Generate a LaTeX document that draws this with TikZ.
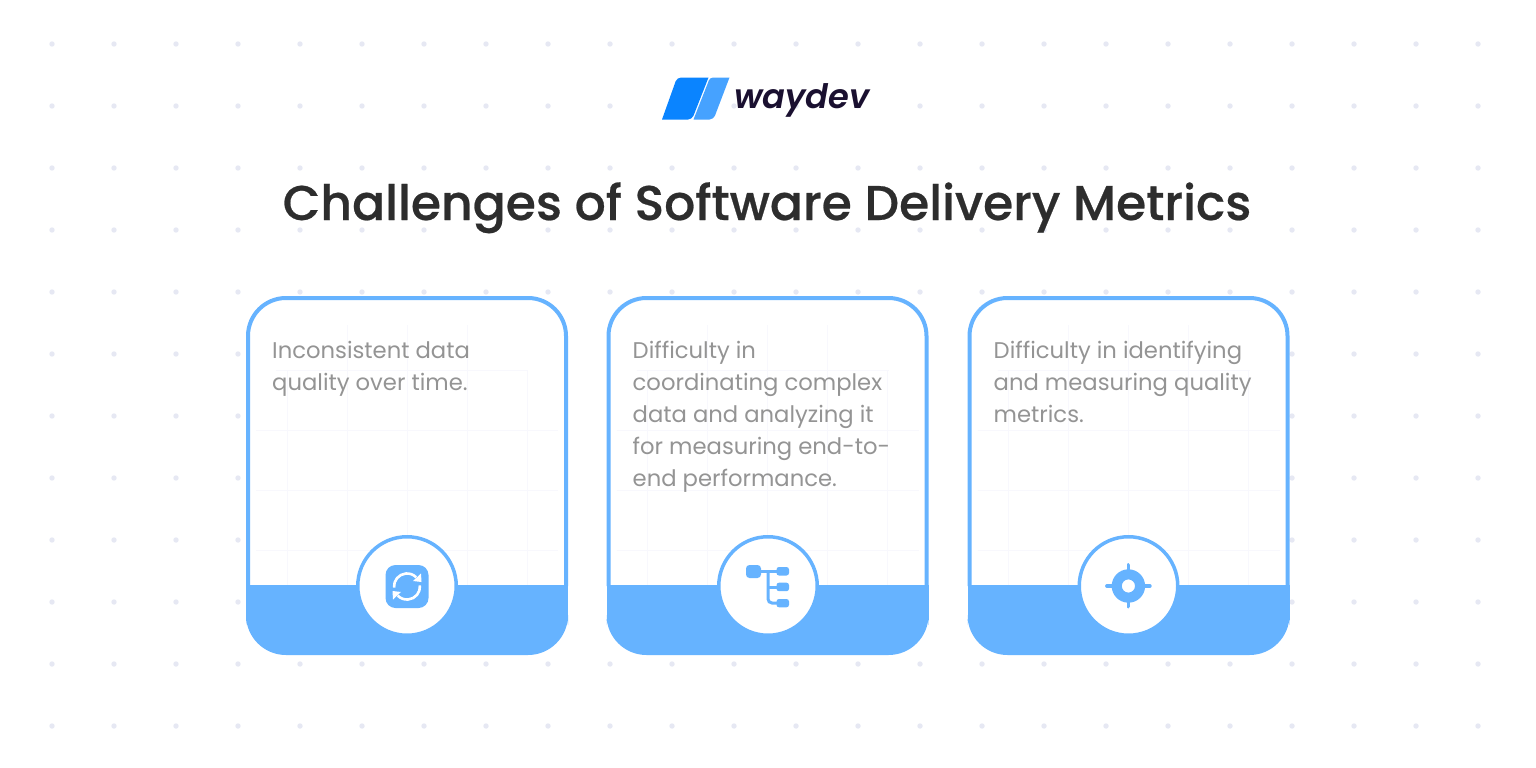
\documentclass[tikz,border=0pt]{standalone}
\usepackage{fontspec}
\setmainfont{Poppins}
\newfontfamily\titlefont{Poppins}[UprightFont=* Medium,FakeBold=0.5]
\newfontfamily\logofont{Poppins}[UprightFont=* SemiBold Italic]
\definecolor{cardblue}{HTML}{66B3FF}
\definecolor{logoblue}{HTML}{0A84FF}
\definecolor{logolight}{HTML}{46A2FF}
\definecolor{dotgrey}{HTML}{E6E8F3}
\definecolor{gridgrey}{HTML}{F8F8FD}
\definecolor{bodygrey}{HTML}{949494}
\definecolor{titledark}{HTML}{2D2D2D}
\definecolor{logodark}{HTML}{1A1030}
\tikzset{
  bodytext/.style={anchor=north west,inner sep=0pt,align=left,text=bodygrey,font=\fontsize{22.7}{32}\selectfont},
  ringnode/.style={circle,fill=white,draw=cardblue,line width=3.5pt,minimum size=98.5pt,inner sep=0pt},
  smallbox/.style={fill=cardblue,rounded corners=2.5pt},
  gridline/.style={draw=gridgrey,line width=1pt}
}
\newcommand{\card}[1]{%
  \begin{scope}[xshift=#1pt]
    \fill[white,rounded corners=38pt] (2,620) -- (2,298) -- (320,298) -- (320,620) -- cycle;
    \foreach \gx in {101,161,221}{\draw[gridline] (\gx,325) -- (\gx,585);}
    \foreach \gx in {41,281}{\draw[gridline] (\gx,370) -- (\gx,585);}
    \draw[gridline] (30,370) -- (282,370);
    \foreach \gy in {430,490,550}{\draw[gridline] (10,\gy) -- (312,\gy);}
    \fill[cardblue,rounded corners=40pt] (0,585) -- (0,655) -- (322,655) -- (322,585) -- cycle;
    \fill[cardblue] (0,585) rectangle (322,620);
    \draw[cardblue,line width=4pt,rounded corners=38pt] (2,586) -- (2,298) -- (320,298) -- (320,586);
  \end{scope}}
\begin{document}
\begin{tikzpicture}[x=1pt,y=-1pt]
\useasboundingbox (0,0) rectangle (1536,768);
\fill[white] (0,0) rectangle (1536,768);
% dot grid
\foreach \i in {0,...,23}{\foreach \j in {0,...,11}{\fill[dotgrey] ({52+62*\i},{44+62*\j}) circle (2.7pt);}}
% logo
\fill[logoblue] (662,119.5) [rounded corners=4pt] -- (677,77.5) [sharp corners] -- (708.5,77.5) [rounded corners=4pt] -- (692,119.5) [sharp corners] -- cycle;
\fill[logolight] (693.5,119.5) [rounded corners=3pt] -- (710,77.5) [sharp corners] -- (729.5,77.5) [rounded corners=4pt] -- (713.5,119.5) [sharp corners] -- cycle;
\node[anchor=base west,inner sep=0pt,text=logodark,font=\fontsize{33.7}{36}\logofont] (logotext) at (734,108) {waydev};
% title
\node[anchor=base,inner sep=0pt,text=titledark,font=\fontsize{48.8}{50}\titlefont] (title) at (767,220) {Challenges of Software Delivery Metrics};
% cards
\card{246}\card{606.5}\card{967.5}
% texts
\node[bodytext] (t1) at (272,341) {Inconsistent data\\quality over time.};
\node[bodytext] (t2) at (632.5,341) {Difficulty in\\coordinating complex\\data and analyzing it\\for measuring end-to-\\end performance.};
\node[bodytext] (t3) at (993.5,341) {Difficulty in identifying\\and measuring quality\\metrics.};
% rings
\node[ringnode] (r1) at (407,586) {};
\node[ringnode] (r2) at (768,586) {};
\node[ringnode] (r3) at (1128.5,586) {};
% sync icon
\fill[cardblue,rounded corners=10pt] (385.5,565) rectangle (428.5,608);
\draw[white,line width=2.6pt] (394.05,587.6) arc[start angle=185,end angle=45,radius=13pt];
\draw[white,line width=2.6pt] (419.95,585.4) arc[start angle=5,end angle=-135,radius=13pt];
\fill[white] (421,573.5) -- (421.5,582) -- (413,581) -- cycle;
\fill[white] (393,599.5) -- (392.5,591) -- (401,592) -- cycle;
% tree icon
\draw[cardblue,line width=3pt] (760,571.5) -- (778,571.5);
\draw[cardblue,line width=3pt,rounded corners=4pt] (768,571.5) -- (768,603) -- (778,603);
\draw[cardblue,line width=3pt] (768,587) -- (778,587);
\fill[cardblue,rounded corners=3.5pt] (746,565) rectangle (761,578);
\fill[smallbox] (776.5,567) rectangle (789,575.5);
\fill[smallbox] (776.5,582.7) rectangle (789,591.2);
\fill[smallbox] (776.5,599) rectangle (789,607.3);
% target icon
\fill[cardblue,even odd rule] (1128.4,586) circle (16.7pt) (1128.4,586) circle (6.6pt);
\draw[cardblue,line width=3.8pt,line cap=round] (1128.4,565) -- (1128.4,572) (1128.4,600) -- (1128.4,606.5) (1107,586) -- (1114,586) (1143,586) -- (1149.8,586);
\end{tikzpicture}
\end{document}
